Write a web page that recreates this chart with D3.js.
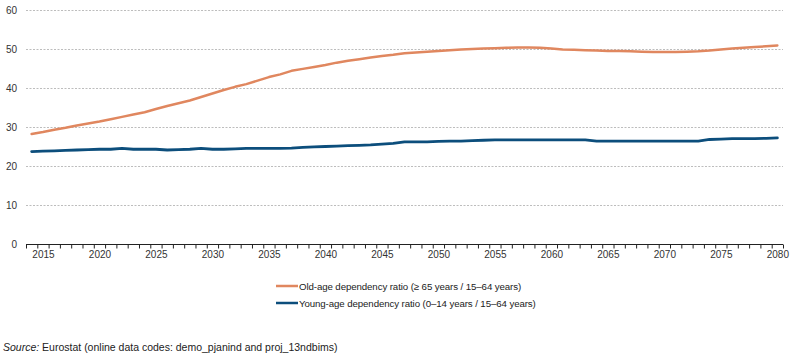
<!DOCTYPE html>
<html><head><meta charset="utf-8">
<script src="https://cdn.jsdelivr.net/npm/d3@7"></script>
<style>
body{margin:0;background:#fff;}
svg{display:block;font-family:Arial,"Liberation Sans",sans-serif;}
</style></head>
<body><svg id="c" width="803" height="355"></svg>
<script>
const years = d3.range(2014, 2081);
const oldAge = [28.2,28.7,29.3,29.8,30.4,30.9,31.4,32.0,32.6,33.2,33.8,34.6,35.4,36.1,36.8,37.7,38.6,39.5,40.3,41.0,41.9,42.8,43.5,44.4,44.9,45.4,45.9,46.5,47.0,47.4,47.8,48.2,48.5,48.9,49.1,49.3,49.5,49.7,49.9,50.0,50.1,50.2,50.3,50.4,50.4,50.3,50.1,49.9,49.8,49.7,49.6,49.5,49.5,49.4,49.3,49.2,49.2,49.2,49.3,49.4,49.6,49.9,50.1,50.3,50.5,50.7,50.9];
const youngAge = [23.7,23.8,23.9,24.0,24.1,24.2,24.3,24.3,24.5,24.3,24.3,24.3,24.1,24.2,24.3,24.5,24.3,24.3,24.4,24.5,24.5,24.5,24.5,24.6,24.8,24.9,25.0,25.1,25.2,25.3,25.4,25.6,25.8,26.2,26.2,26.2,26.3,26.4,26.4,26.5,26.6,26.7,26.7,26.7,26.7,26.7,26.7,26.7,26.7,26.7,26.4,26.4,26.4,26.4,26.4,26.4,26.4,26.4,26.4,26.4,26.8,26.9,27.0,27.0,27.0,27.1,27.2];
const yTicks = [0,10,20,30,40,50,60];
const xLabels = [2015,2020,2025,2030,2035,2040,2045,2050,2055,2060,2065,2070,2075,2080];
const seriesNames = ["Old-age dependency ratio (\u2265 65 years / 15\u201364 years)","Young-age dependency ratio (0\u201314 years / 15\u201364 years)"];
const colors = ["#E0875F","#0C4E7C"];

const svg = d3.select("#c");
const x = d3.scaleLinear().domain([2013.5, 2080.5]).range([26, 783]);
const y = d3.scaleLinear().domain([0, 60]).range([244, 10]);

// gridlines
svg.append("g").selectAll("line").data(yTicks.filter(d=>d>0)).join("line")
  .attr("x1", 26).attr("x2", 783)
  .attr("y1", d=>y(d)+0.5).attr("y2", d=>y(d)+0.5)
  .attr("stroke", "#bdbdbd").attr("stroke-width", 1).attr("stroke-dasharray", "2,1.5");

// y labels
svg.append("g").selectAll("text").data(yTicks).join("text")
  .attr("x", 17).attr("y", d=>y(d)+3.5).attr("text-anchor","end")
  .attr("font-size", "10px").attr("fill", "#333").text(d=>d);

// x axis ticks at category boundaries
const tickAxis = d3.axisBottom(x).tickValues(d3.range(2013.5, 2081, 1)).tickSize(4).tickFormat("");
const gx = svg.append("g").attr("transform", "translate(0,244.5)").call(tickAxis);
gx.select(".domain").attr("stroke", "#222").attr("d", "M26,0H783");
gx.selectAll(".tick line").attr("stroke", "#222");

const labelAxis = d3.axisBottom(x).tickValues(xLabels).tickSize(0).tickPadding(6).tickFormat(d3.format("d"));
const gl = svg.append("g").attr("transform", "translate(0,244.5)").call(labelAxis);
gl.select(".domain").remove();
gl.selectAll("text").attr("font-size","10px").attr("fill","#333").attr("font-family","Arial,'Liberation Sans',sans-serif");

// lines
const line = d3.line().x((d,i)=>x(years[i])).y(d=>y(d)).curve(d3.curveLinear);
[oldAge, youngAge].forEach((s,k)=>{
  svg.append("path").datum(s).attr("d", line).attr("fill","none")
    .attr("stroke", colors[k]).attr("stroke-width", k===0?2.5:2.8)
    .attr("stroke-linejoin","round").attr("stroke-linecap","round");
});

// legend
const lg = svg.append("g");
seriesNames.forEach((n,k)=>{
  const yy = 286 + k*17;
  lg.append("line").attr("x1",276).attr("x2",298).attr("y1",yy).attr("y2",yy)
    .attr("stroke",colors[k]).attr("stroke-width",2.5);
  lg.append("text").attr("x",299).attr("y",yy+3.5).attr("font-size","9.7px").attr("fill","#222")
    .attr("letter-spacing","-0.1px").text(n);
});

// source
const src = svg.append("text").attr("x",3).attr("y",351).attr("font-size","10.5px").attr("fill","#222");
src.append("tspan").attr("font-style","italic").text("Source:");
src.append("tspan").text(" Eurostat (online data codes: demo_pjanind and proj_13ndbims)");
</script></body></html>
